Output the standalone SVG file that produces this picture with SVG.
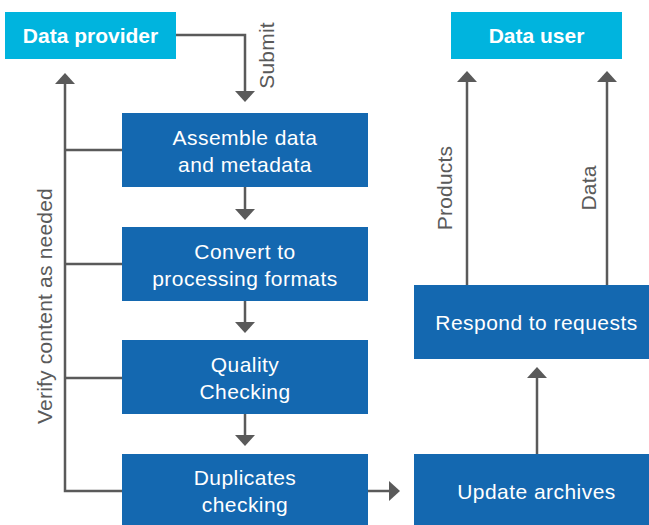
<svg xmlns="http://www.w3.org/2000/svg" width="649" height="525" viewBox="0 0 649 525">
<defs>
<style>
.ext{fill:#00b4de}
.proc{fill:#1468b0}
.et{font-family:"Liberation Sans",Arial,sans-serif;font-size:21px;font-weight:bold;fill:#ffffff;text-anchor:middle}
.pt{font-family:"Liberation Sans",Arial,sans-serif;font-size:21px;letter-spacing:0.45px;fill:#ffffff;text-anchor:middle}
.lbl{font-family:"Liberation Sans",Arial,sans-serif;font-size:21px;letter-spacing:0.2px;fill:#5a5a5a;text-anchor:middle}
.con{fill:none;stroke:#5a5a5a;stroke-width:2.5}
</style>
<marker id="ah" markerUnits="userSpaceOnUse" markerWidth="12" markerHeight="20" refX="1" refY="10" orient="auto" viewBox="0 0 12 20">
<path d="M0,0 L11,10 L0,20 Z" fill="#5a5a5a"/>
</marker>
</defs>
<rect width="649" height="525" fill="#ffffff"/>

<g id="connectors">
<path class="con" d="M176,35 H245 V92" marker-end="url(#ah)"/>
<path class="con" d="M245,187 V210" marker-end="url(#ah)"/>
<path class="con" d="M245,301 V323" marker-end="url(#ah)"/>
<path class="con" d="M245,414 V436" marker-end="url(#ah)"/>
<path class="con" d="M368,491 H390" marker-end="url(#ah)"/>
<path class="con" d="M537,454 V377" marker-end="url(#ah)"/>
<path class="con" d="M467,285 V81" marker-end="url(#ah)"/>
<path class="con" d="M607,285 V81" marker-end="url(#ah)"/>
<path class="con" d="M122,491 H65 V83" marker-end="url(#ah)"/>
<path class="con" d="M65,150 H122 M65,264 H122 M65,378 H122"/>
<text class="lbl" transform="translate(274,55.5) rotate(-90)">Submit</text>
<text class="lbl" transform="translate(452,188) rotate(-90)">Products</text>
<text class="lbl" transform="translate(596,188) rotate(-90)">Data</text>
<text class="lbl" transform="translate(51.5,306) rotate(-90)">Verify content as needed</text>
</g>

<g id="data-provider">
<rect class="ext" x="5" y="12" width="171" height="47"/>
<text class="et" x="90.5" y="43">Data provider</text>
</g>
<g id="data-user">
<rect class="ext" x="451" y="12" width="171" height="47"/>
<text class="et" x="536.5" y="43">Data user</text>
</g>
<g id="assemble">
<rect class="proc" x="122" y="113" width="246" height="74"/>
<text class="pt" x="245" y="145">Assemble data</text>
<text class="pt" x="245" y="172">and metadata</text>
</g>
<g id="convert">
<rect class="proc" x="122" y="227" width="246" height="74"/>
<text class="pt" x="245" y="259">Convert to</text>
<text class="pt" x="245" y="286">processing formats</text>
</g>
<g id="quality">
<rect class="proc" x="122" y="340" width="246" height="74"/>
<text class="pt" x="245" y="372">Quality</text>
<text class="pt" x="245" y="399">Checking</text>
</g>
<g id="duplicates">
<rect class="proc" x="122" y="454" width="246" height="74"/>
<text class="pt" x="245" y="485">Duplicates</text>
<text class="pt" x="245" y="512">checking</text>
</g>
<g id="respond">
<rect class="proc" x="414" y="285" width="235" height="74"/>
<text class="pt" x="536.5" y="330">Respond to requests</text>
</g>
<g id="update">
<rect class="proc" x="414" y="454" width="235" height="74"/>
<text class="pt" x="536.5" y="499">Update archives</text>
</g>
</svg>
